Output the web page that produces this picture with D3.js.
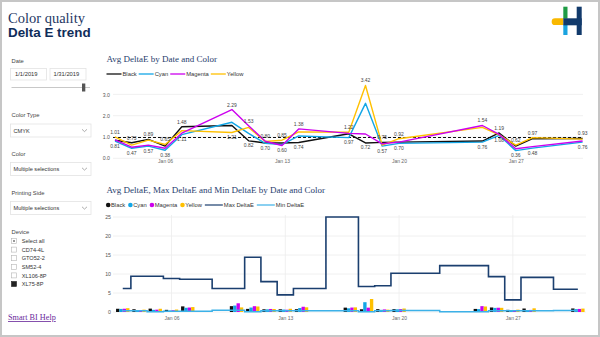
<!DOCTYPE html>
<html><head><meta charset="utf-8">
<script src="https://cdn.jsdelivr.net/npm/d3@7"></script>
<style>
html,body{margin:0;padding:0;background:#fff;}
svg{display:block;}
</style></head>
<body>
<svg id="c" width="600" height="337"></svg>
<script>
// ---------- data ----------
const dates = ["2019-01-03","2019-01-04","2019-01-05","2019-01-06","2019-01-07","2019-01-10","2019-01-11","2019-01-12","2019-01-13","2019-01-14","2019-01-17","2019-01-18","2019-01-19","2019-01-20","2019-01-25","2019-01-26","2019-01-27","2019-01-28","2019-01-31"];
const seriesNames = ["Black","Cyan","Magenta","Yellow"];
const black   = [0.85,0.73,0.89,0.57,1.48,1.54,0.82,0.72,0.72,0.74,1.15,0.72,0.75,0.76,0.81,1.19,0.57,0.92,0.93];
const cyan    = [0.81,0.47,0.57,0.38,1.11,1.69,1.17,0.70,0.64,1.05,0.97,2.58,0.57,0.70,0.76,1.08,0.36,0.48,0.76];
const magenta = [0.86,0.52,0.62,0.47,1.18,2.29,1.53,0.80,0.60,1.38,1.17,1.14,0.68,0.76,1.54,1.12,0.45,0.55,0.81];
const yellow  = [1.01,0.62,0.85,0.65,1.30,1.21,1.45,0.79,0.85,1.24,1.22,3.42,0.62,0.92,1.45,1.10,0.62,0.97,0.90];
const maxDeltaE = [6.2,9.4,9.4,8.8,8.6,6.2,14.4,8.0,4.5,6.2,25.0,6.7,6.9,10.2,12.2,9.3,3.2,9.1,6.0];
const minDeltaE = [0.3,0.3,0.05,0.2,0.2,0.45,0.05,0.3,0.3,0.35,0.3,0.05,0.3,0.4,0.05,0.3,0.3,0.3,0.4];
const refLine = [0.98];
const xTickDates = ["2019-01-06","2019-01-13","2019-01-20","2019-01-27"];
const topYTicks = [0,1,2,3];
const botYTicks = [0,5,10,15,20,25];
const deviceList = ["Select all","CD74-4L","GTO52-2","SM52-4","XL106-8P","XL75-8P"];

const colors = {Black:"#111111",Cyan:"#13a6e6",Magenta:"#cc00ee",Yellow:"#ffc000"};
const seriesVals = {Black:black,Cyan:cyan,Magenta:magenta,Yellow:yellow};
const parse = d3.timeParse("%Y-%m-%d");
const D = dates.map(parse);
const fmtTick = d3.timeFormat("%b %d");

const svg = d3.select("#c");
const SANS = "'Liberation Sans', Arial, sans-serif";
const SERIF = "'Liberation Serif', 'Times New Roman', serif";

// frame
svg.append("rect").attr("x",1).attr("y",1).attr("width",598).attr("height",335)
  .attr("fill","none").attr("stroke","#c6c6c6").attr("stroke-width",2);

// titles
svg.append("text").attr("x",8).attr("y",22.5).text("Color quality")
  .attr("font-family",SERIF).attr("font-size",14.5).attr("fill","#1f3864");
svg.append("text").attr("x",8).attr("y",36.7).text("Delta E trend")
  .attr("font-family",SANS).attr("font-weight","bold").attr("font-size",13.4).attr("fill","#0f2d5a");

// logo
const lg = svg.append("g");
lg.append("path").attr("d","M563.3,18.3 L555,18.3 A3.3,3.3 0 0 0 555,25 L563.3,25 Z").attr("fill","#f9b800");
lg.append("rect").attr("x",563.3).attr("y",6.7).attr("width",4.2).attr("height",12).attr("fill","#1f9c45");
lg.append("rect").attr("x",563.3).attr("y",24.5).attr("width",4.2).attr("height",10.5).attr("fill","#1aa3e0");
lg.append("rect").attr("x",563.3).attr("y",18.3).attr("width",18.4).attr("height",7).attr("fill","#123a6b");
lg.append("rect").attr("x",576.7).attr("y",6.7).attr("width",5).attr("height",28.3).attr("fill","#123a6b");

// ---------- sidebar ----------
const sb = svg.append("g").attr("font-family",SANS).attr("fill","#333");
const lab = (x,y,t,s=5.8,c="#444")=>sb.append("text").attr("x",x).attr("y",y).text(t).attr("font-size",s).attr("fill",c);
lab(11.5,63,"Date");
sb.append("rect").attr("x",10.5).attr("y",68.5).attr("width",36).attr("height",11.5).attr("fill","#fff").attr("stroke","#e3e3e3").attr("stroke-width",0.8);
sb.append("rect").attr("x",50).attr("y",68.5).attr("width",36).attr("height",11.5).attr("fill","#fff").attr("stroke","#e3e3e3").attr("stroke-width",0.8);
lab(15,76.3,"1/1/2019",5.8,"#333");
lab(53.5,76.3,"1/31/2019",5.8,"#333");
sb.append("line").attr("x1",11.5).attr("x2",90).attr("y1",87.5).attr("y2",87.5).attr("stroke","#c8c8c8").attr("stroke-width",1);
sb.append("rect").attr("x",82).attr("y",83.5).attr("width",3.3).attr("height",8).attr("fill","#555");

function dropdown(y,label,val){
  lab(11.5,y,label);
  sb.append("rect").attr("x",10.5).attr("y",y+7).attr("width",80.5).attr("height",13).attr("fill","#fff").attr("stroke","#e3e3e3").attr("stroke-width",0.8);
  lab(13.5,y+15.6,val,5.6,"#333");
  sb.append("path").attr("d",`M${82},${y+12.3} L${84.5},${y+14.6} L${87},${y+12.3}`).attr("fill","none").attr("stroke","#777").attr("stroke-width",0.6);
}
dropdown(117,"Color Type","CMYK");
dropdown(155.5,"Color","Multiple selections");
dropdown(194.5,"Printing Side","Multiple selections");

lab(11.5,233.5,"Device");
deviceList.forEach((d,i)=>{
  const y = 238.5 + i*8.6;
  sb.append("rect").attr("x",11.5).attr("y",y).attr("width",5).attr("height",5)
    .attr("fill", d==="XL75-8P" ? "#222" : "#fff").attr("stroke", d==="XL75-8P" ? "#222" : "#b5b5b5").attr("stroke-width",0.6);
  if(d==="Select all") sb.append("rect").attr("x",13).attr("y",y+1.5).attr("width",2).attr("height",2).attr("fill","#999");
  lab(21.7,y+4.7,d,5.6,"#333");
});
svg.append("text").attr("x",8).attr("y",320).text("Smart BI Help")
  .attr("font-family",SERIF).attr("font-size",8.2).attr("fill","#6b2a9c").attr("text-decoration","underline");

// ---------- top chart ----------
const chartTitleColor = "#1f3d6d";
svg.append("text").attr("x",106.5).attr("y",62).text("Avg DeltaE by Date and Color")
  .attr("font-family",SERIF).attr("font-size",9).attr("fill",chartTitleColor);

// legend top
{
  let x = 106.5; const y = 74;
  const g = svg.append("g");
  seriesNames.forEach(n=>{
    g.append("line").attr("x1",x).attr("x2",x+15).attr("y1",y).attr("y2",y).attr("stroke",colors[n]).attr("stroke-width",1.3);
    x += 16;
    const t = g.append("text").attr("x",x).attr("y",y+2).text(n).attr("font-family",SANS).attr("font-size",5.8).attr("fill","#333");
    x += t.node().getComputedTextLength() + 2;
  });
}

const xT = d3.scaleTime().domain([D[0], D[D.length-1]]).range([115, 582.6]);
const yT = d3.scaleLinear().domain([0,3.5]).range([158.3, 83.75]);
const topG = svg.append("g");
// grid
topG.selectAll("line.g").data(topYTicks).join("line")
  .attr("x1",113).attr("x2",583).attr("y1",d=>yT(d)).attr("y2",d=>yT(d))
  .attr("stroke","#ececec").attr("stroke-width",0.8);
// y axis
const yAxT = d3.axisLeft(yT).tickValues(topYTicks).tickSize(0).tickPadding(0);
topG.append("g").attr("transform","translate(110,0)").call(yAxT)
  .call(g=>g.select(".domain").remove())
  .call(g=>g.selectAll("text").attr("font-family",SANS).attr("font-size",5.2).attr("fill","#555"));
// x axis
const xAxT = d3.axisBottom(xT).tickValues(xTickDates.map(parse)).tickFormat(fmtTick).tickSize(0).tickPadding(0);
topG.append("g").attr("transform","translate(0,159.5)").call(xAxT)
  .call(g=>g.select(".domain").remove())
  .call(g=>g.selectAll("text").attr("font-family",SANS).attr("font-size",5).attr("fill","#666"));
// ref dashed line
topG.selectAll("line.ref").data(refLine).join("line")
  .attr("x1",113).attr("x2",583).attr("y1",d=>yT(d)).attr("y2",d=>yT(d))
  .attr("stroke","#111").attr("stroke-width",1.1).attr("stroke-dasharray","3,2");
// lines
const lineT = d3.line().x((d,i)=>xT(D[i])).y(d=>yT(d));
["Black","Cyan","Yellow","Magenta"].forEach(n=>{
  topG.append("path").attr("d",lineT(seriesVals[n])).attr("fill","none")
    .attr("stroke",colors[n]).attr("stroke-width",1.4).attr("stroke-linejoin","round");
});
// data labels: max above, min below
D.forEach((d,i)=>{
  const vals = seriesNames.map(n=>seriesVals[n][i]);
  const mx = d3.max(vals), mn = d3.min(vals);
  topG.append("text").attr("x",xT(d)).attr("y",yT(mx)-3).attr("text-anchor","middle")
    .text(mx.toFixed(2)).attr("font-family",SANS).attr("font-size",5).attr("fill","#444");
  topG.append("text").attr("x",xT(d)).attr("y",yT(mn)+6.5).attr("text-anchor","middle")
    .text(mn.toFixed(2)).attr("font-family",SANS).attr("font-size",5).attr("fill","#444");
});

// ---------- bottom chart ----------
svg.append("text").attr("x",106.5).attr("y",193).text("Avg DeltaE, Max DeltaE and Min DeltaE by Date and Color")
  .attr("font-family",SERIF).attr("font-size",9).attr("fill",chartTitleColor);
{
  let x = 106; const y = 205;
  const g = svg.append("g");
  seriesNames.forEach(n=>{
    g.append("circle").attr("cx",x+2.2).attr("cy",y).attr("r",2.3).attr("fill",colors[n]);
    x += 5;
    const t = g.append("text").attr("x",x).attr("y",y+2).text(n).attr("font-family",SANS).attr("font-size",5.8).attr("fill","#333");
    x += t.node().getComputedTextLength() + 3;
  });
  [["Max DeltaE","#1b3f6f"],["Min DeltaE","#3cb1e8"]].forEach(([n,c])=>{
    g.append("line").attr("x1",x).attr("x2",x+18).attr("y1",y).attr("y2",y).attr("stroke",c).attr("stroke-width",1.2);
    x += 19;
    const t = g.append("text").attr("x",x).attr("y",y+2).text(n).attr("font-family",SANS).attr("font-size",5.8).attr("fill","#333");
    x += t.node().getComputedTextLength() + 3;
  });
}
const day = 864e5;
const xB = d3.scaleTime().domain([new Date(+D[0]-0.6*day), new Date(+D[D.length-1]+0.5*day)]).range([113,586]);
const yB = d3.scaleLinear().domain([0,25.5]).range([312,215.1]);
const botG = svg.append("g");
botG.selectAll("line.gy").data(botYTicks).join("line")
  .attr("x1",113).attr("x2",586).attr("y1",d=>yB(d)).attr("y2",d=>yB(d))
  .attr("stroke","#ececec").attr("stroke-width",0.8);
botG.selectAll("line.gx").data(xTickDates.map(parse)).join("line")
  .attr("x1",d=>xB(d)).attr("x2",d=>xB(d)).attr("y1",215).attr("y2",312)
  .attr("stroke","#ececec").attr("stroke-width",0.8);
botG.append("g").attr("transform","translate(111,0)").call(d3.axisLeft(yB).tickValues(botYTicks).tickSize(0).tickPadding(0))
  .call(g=>g.select(".domain").remove())
  .call(g=>g.selectAll("text").attr("font-family",SANS).attr("font-size",5.2).attr("fill","#555"));
botG.append("g").attr("transform","translate(0,316)").call(d3.axisBottom(xB).tickValues(xTickDates.map(parse)).tickFormat(fmtTick).tickSize(0).tickPadding(0))
  .call(g=>g.select(".domain").remove())
  .call(g=>g.selectAll("text").attr("font-family",SANS).attr("font-size",5).attr("fill","#666"));
// bars
const xSub = d3.scaleBand().domain(seriesNames).range([-6.7,6.7]).paddingInner(0);
D.forEach((d,i)=>{
  seriesNames.forEach(n=>{
    const v = seriesVals[n][i];
    botG.append("rect").attr("x",xB(d)+xSub(n)).attr("width",xSub.bandwidth())
      .attr("y",yB(v)).attr("height",yB(0)-yB(v)).attr("fill",colors[n]);
  });
});
const stepLine = d3.line().curve(d3.curveStep).x((d,i)=>xB(D[i])).y(d=>yB(d));
botG.append("path").attr("d",stepLine(minDeltaE)).attr("fill","none").attr("stroke","#3cb1e8").attr("stroke-width",1.5);
botG.append("path").attr("d",stepLine(maxDeltaE)).attr("fill","none").attr("stroke","#1b3f6f").attr("stroke-width",1.6);
</script>
</body></html>
